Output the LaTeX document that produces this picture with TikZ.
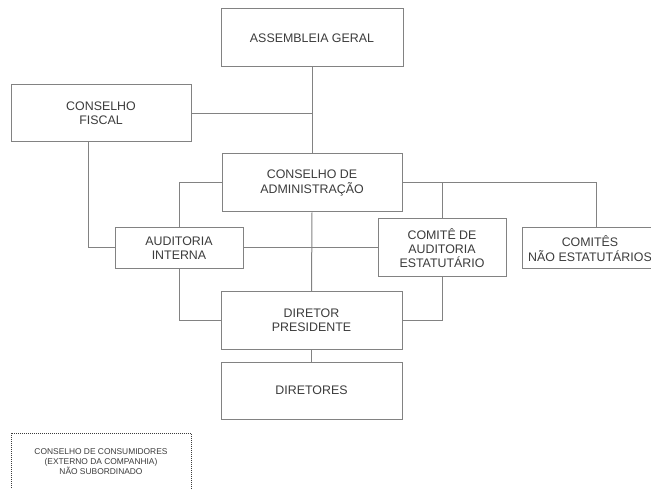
\documentclass[tikz,border=0pt]{standalone}
\usepackage{fontspec}
\setmainfont{Liberation Sans}
\usetikzlibrary{backgrounds}
\definecolor{linec}{RGB}{130,130,130}
\definecolor{textc}{RGB}{60,60,60}
\begin{document}
\begin{tikzpicture}[x=1pt,y=1pt,
  box/.style={draw=linec, line width=1pt, fill=white, minimum width=#1, inner sep=0pt, align=center, text=textc, font=\fontsize{12.4}{14.3}\selectfont},
  box/.default=180pt,
  conn/.style={draw=linec, line width=1pt},
  dotbox/.style={draw=textc, line width=0.9pt, dash pattern=on 1pt off 1pt, fill=white, minimum width=180pt, minimum height=58pt, inner sep=0pt, align=center, text=textc, font=\fontsize{8.4}{10}\selectfont}]
\useasboundingbox (0,0) rectangle (651,488);
\clip (0,0) rectangle (651,488);
\node[box=182pt, minimum height=58pt] (ag) at (312,450) {ASSEMBLEIA GERAL};
\node[box=180pt, minimum height=57pt] (cf) at (101,374.5) {CONSELHO\\FISCAL};
\node[box=180pt, minimum height=58pt] (ca) at (312,305) {CONSELHO DE\\ADMINISTRAÇÃO};
\node[box=128pt, minimum height=41pt] (ai) at (179,239.5) {AUDITORIA\\INTERNA};
\node[box=128pt, minimum height=58pt] (cau) at (442,240) {COMITÊ DE\\AUDITORIA\\ESTATUTÁRIO};
\node[box=136pt, minimum height=41pt] (cne) at (590,239.5) {COMITÊS\\NÃO ESTATUTÁRIOS};
\node[box=181pt, minimum height=57pt] (dp) at (311.5,167.5) {DIRETOR\\PRESIDENTE};
\node[box=181pt, minimum height=57pt] (di) at (311.5,97.5) {DIRETORES};
\node[dotbox] (cc) at (101,26) {CONSELHO DE CONSUMIDORES\\(EXTERNO DA COMPANHIA)\\NÃO SUBORDINADO};
\begin{scope}[on background layer]
\draw[conn] (ag.south) -- (ca.north);
\draw[conn] (cf.east) -- (cf.east -| ag.south);
\draw[conn] ([xshift=-13pt]cf.south) |- (cau.west);
\draw[conn] (ca.west) -| (ai.north);
\coordinate (cneTop) at ([xshift=6pt]cne.north);
\draw[conn] (ca.east) -| (cneTop);
\draw[conn] (ca.east -| cau.north) -- (cau.north);
\draw[conn] (ca.south) -- (dp.north);
\draw[conn] (ai.south) |- (dp.west);
\draw[conn] (cau.south) |- (dp.east);
\draw[conn] (dp.south) -- (di.north);
\end{scope}
\end{tikzpicture}
\end{document}
